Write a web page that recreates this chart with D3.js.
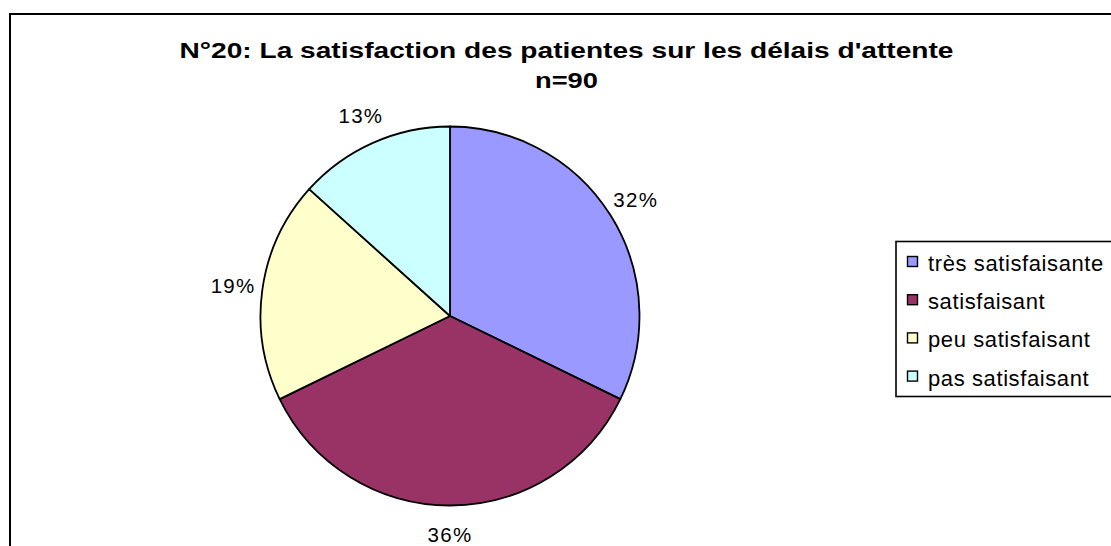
<!DOCTYPE html>
<html><head><meta charset="utf-8">
<script src="https://cdn.jsdelivr.net/npm/d3@7"></script>
<style>body{margin:0;background:#fff}svg{display:block}text{font-family:"Liberation Sans",Arial,sans-serif}</style>
</head><body><svg id="c" width="1111" height="546"></svg>
<script>
const categories = ["très satisfaisante","satisfaisant","peu satisfaisant","pas satisfaisant"];
const counts = [29, 32, 17, 12];
const colors = ["#9999FF","#993366","#FFFFCC","#CCFFFF"];
const titleLines = ["N°20: La satisfaction des patientes sur les délais d'attente","n=90"];
const titleWidths = [774, 63];

const svg = d3.select("#c");
const W = 1111, H = 546;
// outer chart frame
svg.append("rect").attr("x",10).attr("y",14).attr("width",W+20).attr("height",H+20)
  .attr("fill","#fff").attr("stroke","#000").attr("stroke-width",2);

// title
svg.append("g").selectAll("text").data(titleLines).join("text")
  .attr("x",566.5).attr("y",(d,i)=>58+i*29.5).attr("text-anchor","middle")
  .attr("font-size",22).attr("font-weight","bold")
  .attr("textLength",(d,i)=>titleWidths[i]).attr("lengthAdjust","spacingAndGlyphs")
  .text(d=>d);

const cx = 450, cy = 316, r = 189.5;
const total = d3.sum(counts);
const pie = d3.pie().sort(null).value(d=>d)(counts);
const arc = d3.arc().innerRadius(0).outerRadius(r);
const g = svg.append("g").attr("transform",`translate(${cx},${cy})`);
g.selectAll("path").data(pie).join("path")
  .attr("d",arc).attr("fill",(d,i)=>colors[i]).attr("stroke","#000").attr("stroke-width",1.8)
  .attr("stroke-linejoin","round");

const labelArc = d3.arc().innerRadius(219).outerRadius(219);
g.selectAll("text.lab").data(pie).join("text").attr("class","lab")
  .attr("transform",d=>`translate(${labelArc.centroid(d)})`)
  .attr("text-anchor","middle").attr("dy","0.34em").attr("font-size",20.5)
  .attr("letter-spacing","1.3px").text(d=>Math.round(d.data/total*100)+"%");

// legend
const lg = svg.append("g");
lg.append("rect").attr("x",896).attr("y",241.5).attr("width",240).attr("height",155)
  .attr("fill","#fff").attr("stroke","#000").attr("stroke-width",1.6);
const items = lg.selectAll("g.it").data(categories).join("g").attr("class","it")
  .attr("transform",(d,i)=>`translate(907,${256+i*38.2})`);
items.append("rect").attr("x",0.5).attr("y",0.5).attr("width",10).attr("height",10)
  .attr("fill",(d,i)=>colors[i]).attr("stroke","#000").attr("stroke-width",1.4);
items.append("text").attr("x",21).attr("y",15).attr("font-size",22)
  .attr("letter-spacing","0.6px").text(d=>d);
</script></body></html>
